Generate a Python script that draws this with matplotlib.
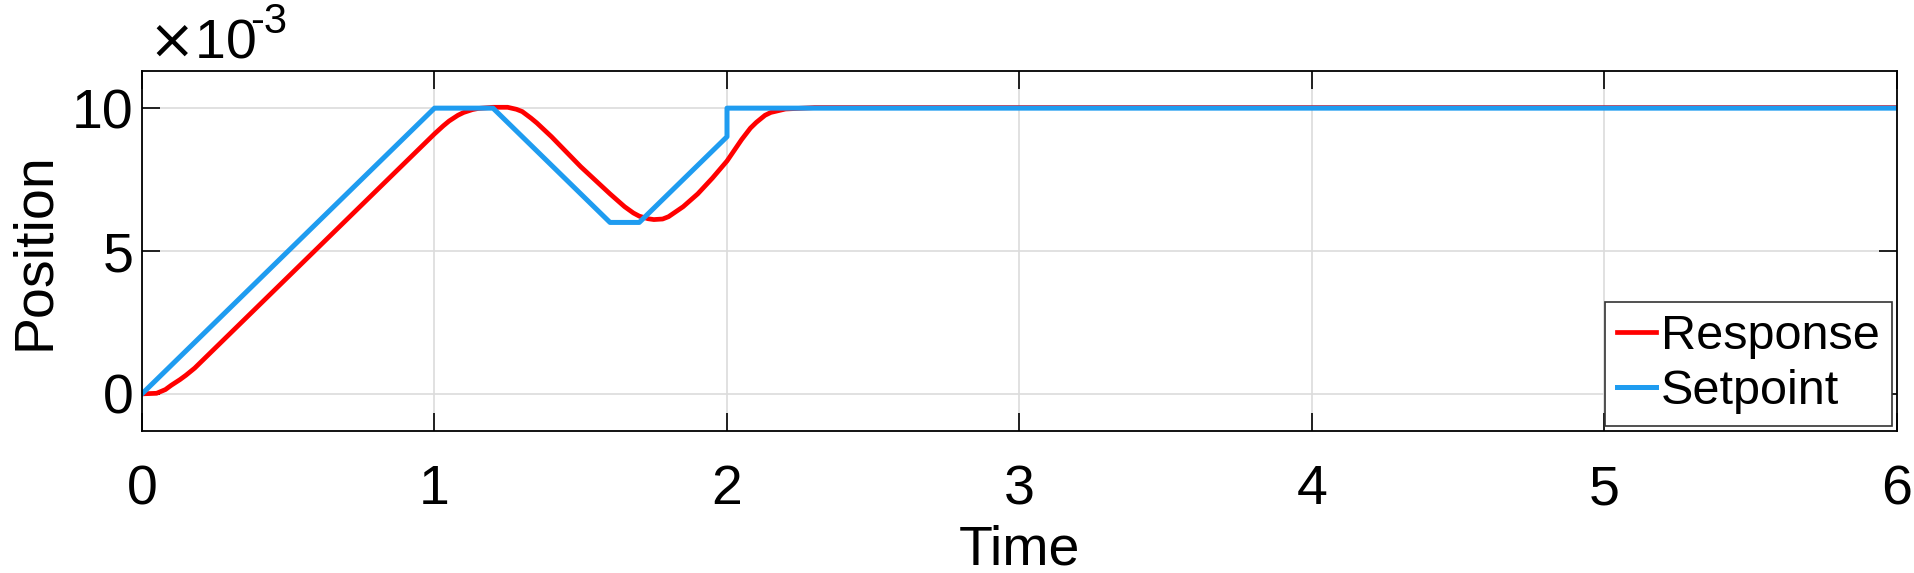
import numpy as np
import matplotlib
matplotlib.use("Agg")
import matplotlib.pyplot as plt
from matplotlib.ticker import FuncFormatter

plt.rcParams['font.family'] = ['Liberation Sans', 'DejaVu Sans']

# setpoint corners (time, position)
t_set = [0.0, 1.0, 1.2, 1.6, 1.7, 2.0, 2.0, 6.0]
y_set = [0.0, 0.010, 0.010, 0.006, 0.006, 0.009, 0.010, 0.010]

# response
t_resp = [0.0, 0.05, 0.08, 0.1, 0.13, 0.15, 0.18, 0.2, 0.3, 0.4, 0.5, 0.6, 0.7, 0.8, 0.9,
          1.0, 1.03, 1.05, 1.08, 1.1, 1.13, 1.15, 1.2, 1.25, 1.28, 1.3, 1.33, 1.35, 1.4,
          1.5, 1.6, 1.65, 1.68, 1.7, 1.73, 1.75, 1.78, 1.8, 1.85, 1.9, 1.95, 2.0,
          2.05, 2.08, 2.1, 2.13, 2.15, 2.2, 2.3, 6.0]
y_resp = [0.0, 0.02, 0.15, 0.3, 0.5, 0.65, 0.9, 1.1, 2.1, 3.1, 4.1, 5.1, 6.1, 7.1, 8.1,
          9.1, 9.38, 9.55, 9.75, 9.85, 9.95, 9.99, 10.03, 10.03, 9.96, 9.88, 9.65, 9.48, 9.0,
          7.95, 7.0, 6.55, 6.33, 6.22, 6.13, 6.1, 6.12, 6.2, 6.55, 7.0, 7.55, 8.15,
          8.9, 9.3, 9.5, 9.75, 9.85, 9.97, 10.02, 10.02]
y_resp = [v * 1e-3 for v in y_resp]

xticks = [0, 1, 2, 3, 4, 5, 6]
yticks = [0, 0.005, 0.010]

fig = plt.figure(figsize=(19.14, 5.73), dpi=100)
ax = fig.add_axes([142/1914, 1 - 431/573, (1897 - 142)/1914, (431 - 71)/573])

ax.plot(t_resp, y_resp, color='#ff0000', lw=3.4, label='Response')
ax.plot(t_set, y_set, color='#1f9cf0', lw=3.6, label='Setpoint')

ax.set_xlim(0, 6)
ax.set_ylim(-1.3e-3, 11.3e-3)
ax.set_xticks(xticks)
ax.set_yticks(yticks)
ax.yaxis.set_major_formatter(FuncFormatter(lambda v, p: '%g' % round(v / 1e-3, 6)))
ax.grid(True, color='#dcdcdc', lw=1.2)
ax.set_axisbelow(True)
ax.tick_params(direction='in', length=13, width=1.2, top=True, right=True,
               labelsize=40)
ax.tick_params(axis='x', pad=24)
ax.tick_params(axis='y', pad=6)
for s in ax.spines.values():
    s.set_linewidth(1.3)

ax.set_xlabel('Time', fontsize=40, labelpad=6)
ax.set_ylabel('Position', fontsize=40, labelpad=8)

# exponent label, MATLAB style
fig.text(148/1914, 1 - 58/573, r'$\times$10', fontsize=40, ha='left', va='baseline')
fig.text(250/1914, 1 - 33/573, '-3', fontsize=30, ha='left', va='baseline')

leg = ax.legend(loc='lower right', fontsize=35, handlelength=0.8,
                handletextpad=0.1, borderaxespad=0.1, labelspacing=0.2,
                fancybox=False, framealpha=1, borderpad=0.25)
leg.get_frame().set_edgecolor('#333333')
leg.get_frame().set_linewidth(1.2)

fig.savefig('out.png', dpi=100)
